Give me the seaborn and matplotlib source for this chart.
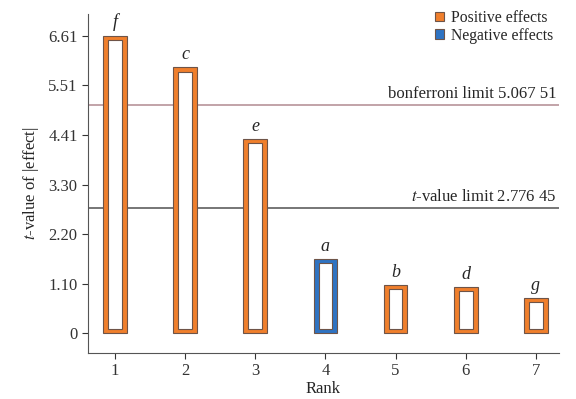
import matplotlib
matplotlib.use("Agg")
import matplotlib.pyplot as plt
from matplotlib.patches import Patch
import numpy as np
import pandas as pd
import seaborn as sns

# data
ranks   = [1, 2, 3, 4, 5, 6, 7]
effects = ["f", "c", "e", "a", "b", "d", "g"]
tvalues = [6.62, 5.91, 4.31, 1.64, 1.07, 1.02, 0.77]
signs   = ["Positive effects", "Positive effects", "Positive effects", "Negative effects",
           "Positive effects", "Positive effects", "Positive effects"]
yticks  = [0, 1.10, 2.20, 3.30, 4.41, 5.51, 6.61]
bonferroni_limit = 5.06751
t_limit          = 2.77645

ORANGE = "#f07f2c"
BLUE   = "#2f73c2"
EDGE   = "#6e5448"

sns.set_style("ticks")
plt.rcParams["font.family"] = ["Liberation Serif", "DejaVu Serif"]
plt.rcParams["mathtext.fontset"] = "stix"

df = pd.DataFrame({"rank": ranks, "effect": effects, "t": tvalues, "sign": signs})

fig = plt.figure(figsize=(5.76, 3.99), dpi=100)
ax = fig.add_axes([88 / 576, 1 - 353 / 399, (559 - 88) / 576, (353 - 14) / 399])

# limit lines (behind the bars)
ax.axhline(bonferroni_limit, color="#b8949a", lw=1.2, zorder=0.5)
ax.axhline(t_limit, color="#5f5f5f", lw=1.2, zorder=0.5)

# outer coloured bars
sns.barplot(data=df, x="rank", y="t", hue="sign", native_scale=True, dodge=False,
            palette={"Positive effects": ORANGE, "Negative effects": BLUE},
            saturation=1, width=0.34, edgecolor=EDGE, linewidth=0.8,
            legend=False, zorder=2, ax=ax)

# white inner part of each bar
gap = 0.09
ax.bar(df["rank"], df["t"] - 2 * gap, bottom=gap, width=0.195,
       color="white", edgecolor=EDGE, linewidth=0.8, zorder=3)

# letters above bars
for r, t, lab in zip(ranks, tvalues, effects):
    ax.annotate(lab, (r, t), xytext=(0, 3), textcoords="offset points",
                ha="center", va="bottom", fontsize=13, style="italic")

ax.text(7.29, bonferroni_limit + 0.08, "bonferroni limit 5.067 51",
        ha="right", va="bottom", fontsize=12)
ax.text(7.29, t_limit + 0.08, "$t$-value limit 2.776 45",
        ha="right", va="bottom", fontsize=12)

ax.set_xlim(0.615, 7.33)
ax.set_ylim(-0.445, 7.1)
ax.set_xticks(ranks)
ax.set_xticklabels([str(r) for r in ranks])
ax.set_yticks(yticks)
ax.set_yticklabels(["0"] + [f"{v:.2f}" for v in yticks[1:]])
ax.tick_params(labelsize=12, colors="#333333", length=4, width=0.8)
for s in ["left", "bottom"]:
    ax.spines[s].set_color("#555555")
    ax.spines[s].set_linewidth(0.8)
sns.despine(ax=ax)
ax.set_xlabel("Rank", fontsize=12, labelpad=1)
ax.set_ylabel("$t$-value of |effect|", fontsize=12, labelpad=5)

handles = [Patch(facecolor=ORANGE, edgecolor=EDGE, lw=0.8),
           Patch(facecolor=BLUE, edgecolor=EDGE, lw=0.8)]
fig.legend(handles, ["Positive effects", "Negative effects"], loc="upper left",
           bbox_to_anchor=(425 / 576, 1.0), frameon=False, fontsize=11.3,
           handlelength=0.55, handleheight=0.55, handletextpad=0.45,
           labelspacing=0.1, borderpad=0.15)

fig.savefig("out.png", dpi=100)
